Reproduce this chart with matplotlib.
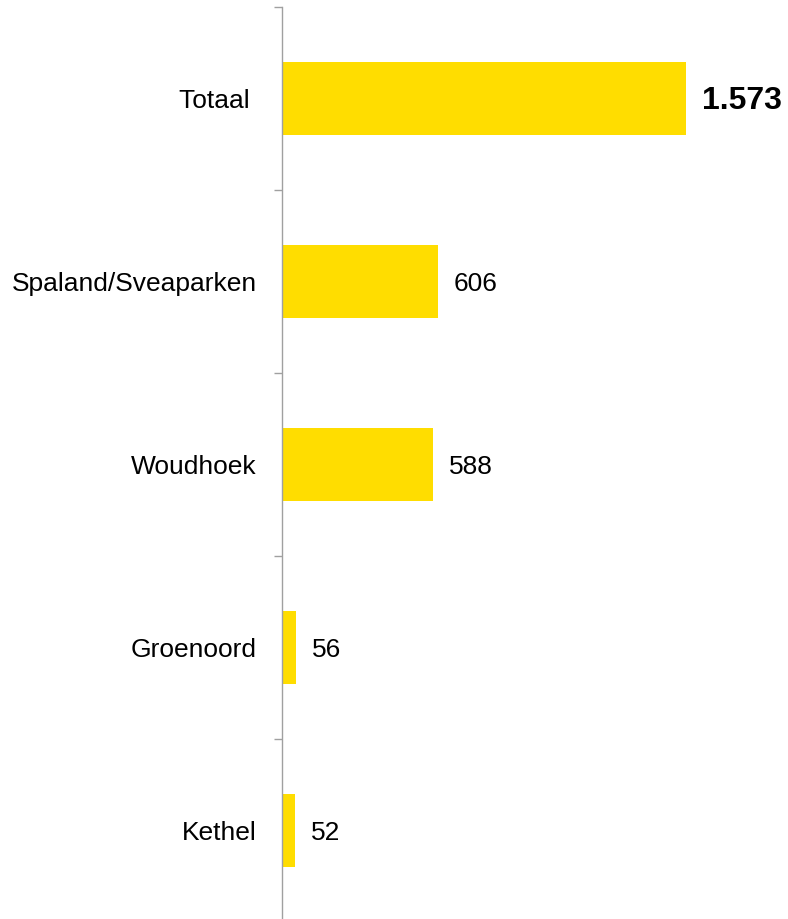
import matplotlib.pyplot as plt
import numpy as np

plt.rcParams['font.family'] = ['Liberation Sans', 'DejaVu Sans']

wijken = ['Totaal ', 'Spaland/Sveaparken', 'Woudhoek', 'Groenoord', 'Kethel']
aantallen = [1573, 606, 588, 56, 52]
labels = ['1.573', '606', '588', '56', '52']

fig = plt.figure(figsize=(7.88, 9.19), dpi=100)
ax = fig.add_axes([282 / 788, -3 / 919, 506 / 788, 915 / 919])

y = np.arange(len(wijken))
ax.barh(y, aantallen, height=0.4, color='#FFDD00')

for i, (v, lab) in enumerate(zip(aantallen, labels)):
    bold = i == 0
    ax.annotate(lab, (v, i), xytext=(11.5, -1.5), textcoords='offset points',
                va='center', ha='left', fontsize=23 if bold else 19,
                fontweight='bold' if bold else 'normal', color='black')

ax.set_ylim(len(wijken) - 0.5, -0.5)
ax.set_xlim(0, 1970)

ax.set_yticks(y)
ax.set_yticklabels(wijken, fontsize=19)
ax.tick_params(axis='y', which='major', length=0, pad=18)
ax.set_yticks(np.arange(-0.5, len(wijken)), minor=True)
ax.tick_params(axis='y', which='minor', length=6, width=1, color='#A0A0A0', direction='out')

ax.set_xticks([])
for side in ['top', 'right', 'bottom']:
    ax.spines[side].set_visible(False)
ax.spines['left'].set_color('#A0A0A0')
ax.spines['left'].set_linewidth(1)

fig.savefig('out.png', dpi=100)
